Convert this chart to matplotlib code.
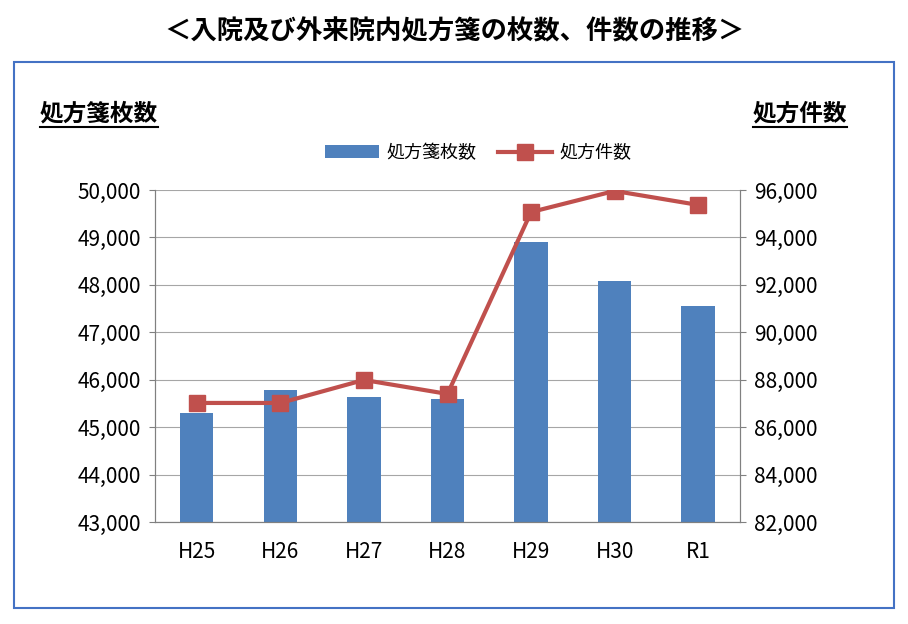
import matplotlib
matplotlib.use("Agg")
import matplotlib.pyplot as plt
from matplotlib.patches import Rectangle

plt.rcParams['font.family'] = ['Noto Sans CJK JP', 'DejaVu Sans']

categories = ["H25", "H26", "H27", "H28", "H29", "H30", "R1"]
sheets = [45300, 45780, 45640, 45590, 48900, 48080, 47550]
items = [87020, 87020, 87990, 87400, 95070, 95960, 95370]
left_ticks = [43000, 44000, 45000, 46000, 47000, 48000, 49000, 50000]
right_ticks = [82000, 84000, 86000, 88000, 90000, 92000, 94000, 96000]

W, H = 908, 624
fig = plt.figure(figsize=(W/100, H/100), dpi=100)
fig.patch.set_facecolor("white")

fig.text(0.5, 1-32/H, "＜入院及び外来院内処方箋の枚数、件数の推移＞", ha="center", va="center",
         fontsize=19, fontweight="bold")
fig.patches.append(Rectangle((14/W, 1-608/H), 880/W, 546/H, transform=fig.transFigure,
                             fill=False, edgecolor="#4472C4", linewidth=1.5))

ax = fig.add_axes([155/W, 1-522/H, 585/W, 332/H])
x = range(len(categories))
ax.bar(x, sheets, width=0.4, color="#4F81BD", label="処方箋枚数", zorder=2)
ax.set_ylim(43000, 50000)
ax.set_yticks(left_ticks)
ax.set_yticklabels([f"{v:,}" for v in left_ticks], fontsize=15)
ax.set_xticks(list(x))
ax.set_xticklabels(categories, fontsize=15)
ax.set_xlim(-0.5, len(categories)-0.5)
ax.grid(axis="y", color="#A6A6A6", linewidth=0.8, zorder=0)
ax.spines["top"].set_visible(False)
for s in ["left", "right", "bottom"]:
    ax.spines[s].set_color("#808080")
ax.tick_params(axis="y", length=4, color="#808080", pad=6)
ax.tick_params(axis="x", length=0, pad=14)

ax2 = ax.twinx()
ax2.plot(x, items, color="#C0504D", linewidth=3, marker="s", markersize=11, label="処方件数", zorder=3)
ax2.set_ylim(82000, 96000)
ax2.set_yticks(right_ticks)
ax2.set_yticklabels([f"{v:,}" for v in right_ticks], fontsize=15)
ax2.spines["top"].set_visible(False)
for s in ["left", "right", "bottom"]:
    ax2.spines[s].set_color("#808080")
ax2.tick_params(axis="y", length=4, color="#808080", pad=6)

h1, l1 = ax.get_legend_handles_labels()
h2, l2 = ax2.get_legend_handles_labels()
fig.legend(h1+h2, l1+l2, loc="center", bbox_to_anchor=(478/W, 1-153/H), ncol=2,
           frameon=False, fontsize=13, handlelength=3, columnspacing=1.2, handletextpad=0.4)

t1 = fig.text(40/W, 1-113/H, "処方箋枚数", fontsize=17, fontweight="bold", ha="left", va="center")
t2 = fig.text(847/W, 1-113/H, "処方件数", fontsize=17, fontweight="bold", ha="right", va="center")
fig.canvas.draw()
r = fig.canvas.get_renderer()
for t in (t1, t2):
    bb = t.get_window_extent(r)
    fig.lines.append(plt.Line2D([bb.x0/W, bb.x1/W], [1-127/H]*2, transform=fig.transFigure,
                                color="black", lw=1.5))

fig.savefig("out.png", dpi=100)
